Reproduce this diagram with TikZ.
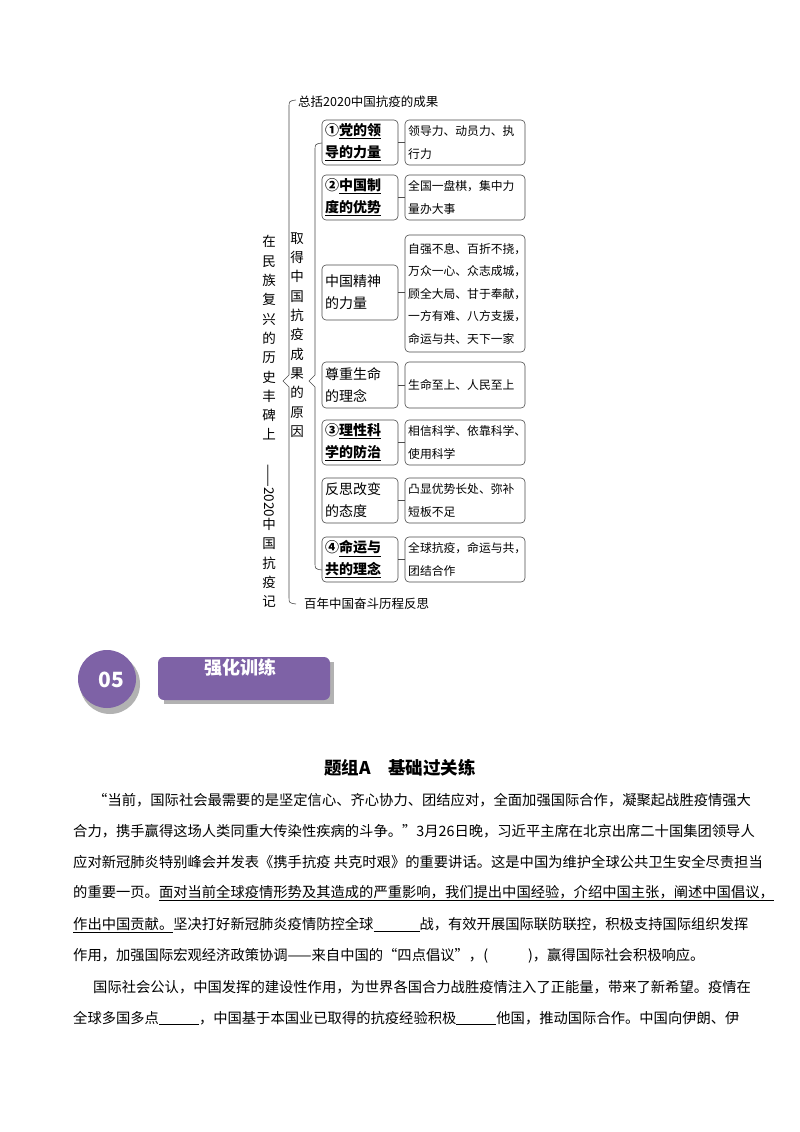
\documentclass[tikz,border=0pt]{standalone}
\usepackage{fontspec}
\setmainfont{Noto Sans CJK SC}
\begin{document}
\begin{tikzpicture}[x=1pt,y=-1pt,
  lb/.style={draw=black!70,rounded corners=4pt,line width=0.6pt},
  lt/.style={anchor=north west,align=left,inner sep=0pt,font=\fontsize{14}{22}\selectfont},
  rt/.style={anchor=north west,align=left,inner sep=0pt,font=\fontsize{11.8}{22.5}\selectfont},
  con/.style={draw=black!70,line width=0.6pt},
  brace/.style={draw=black!70,line width=0.6pt},
  vt/.style={align=center,inner sep=0pt,font=\fontsize{13.5}{19.3}\selectfont},
  body/.style={anchor=west,inner sep=0pt,font=\fontsize{14.3}{18}\selectfont}]
\useasboundingbox (0,0) rectangle (800,1132);
\fill[white] (0,0) rectangle (800,1132);
\definecolor{pur}{HTML}{7E62A6}
% outer brace
\draw[brace] (296,100) .. controls (289,101) .. (289,108) -- (289,375) -- (283,381) -- (289,387) -- (289,597) .. controls (289,603) .. (296,604);
\node[anchor=west,inner sep=0,font=\fontsize{12.5}{14}\selectfont] (ttop) at (298,102) {总括2020中国抗疫的成果};
\node[anchor=west,inner sep=0,font=\fontsize{12.5}{14}\selectfont] (tbot) at (304,604) {百年中国奋斗历程反思};
% inner brace
\draw[brace] (322,143) .. controls (315,144) .. (315,151) -- (315,375) -- (309,381) -- (315,387) -- (315,562) .. controls (315,569) .. (322,570);
\node[vt] (vleft) at (269,338) {在\\民\\族\\复\\兴\\的\\历\\史\\丰\\碑\\上};
\node[vt] (vleft2) at (269,536) {\rotatebox{-90}{——2020}\\中\\国\\抗\\疫\\记};
\node[vt] (vmid) at (297,335) {取\\得\\中\\国\\抗\\疫\\成\\果\\的\\原\\因};
% boxes
\foreach \n/\ya/\yb/\yc/\yd/\txl/\txr in {
 1/120/165/120/165/{\bfseries ①\underline{党的领}\\\bfseries\underline{导的力量}}/{领导力、动员力、执\\行力},
 2/175/220/175/220/{\bfseries ②\underline{中国制}\\\bfseries\underline{度的优势}}/{全国一盘棋，集中力\\量办大事},
 3/265/320/235/352/{中国精神\\的力量}/{自强不息、百折不挠，\\万众一心、众志成城，\\顾全大局、甘于奉献，\\一方有难、八方支援，\\命运与共、天下一家},
 4/362/408/362/408/{尊重生命\\的理念}/{生命至上、人民至上},
 5/420/465/420/465/{\bfseries ③\underline{理性科}\\\bfseries\underline{学的防治}}/{相信科学、依靠科学、\\使用科学},
 6/478/523/478/523/{反思改变\\的态度}/{凸显优势长处、弥补\\短板不足},
 7/537/582/537/582/{\bfseries ④\underline{命运与}\\\bfseries\underline{共的理念}}/{全球抗疫，命运与共，\\团结合作}}{
  \draw[lb] (322,\ya) rectangle (398,\yb);
  \draw[lb] (405,\yc) rectangle (525,\yd);
  \node[lt,anchor=west] (l\n) at (325,{(\ya+\yb)/2}) {\txl};
  \node[rt,anchor=west] (r\n) at (408,{(\yc+\yd)/2}) {\txr};
  \coordinate (la\n) at (398,{(\ya+\yb)/2});
  \coordinate (ra\n) at (405,{(\ya+\yb)/2});
  \draw[con] (la\n) -- (ra\n);
}
% banner
\fill[black!30] (110,684) circle (30);
\fill[black!30] (164,662) rectangle (334,704);
\fill[black!30] (82,686) -- (104,655) -- (110,684) -- cycle;
\fill[pur,rounded corners=6pt] (158,657) rectangle (330,700);
\fill[pur] (107,679) circle (29);
\fill[pur] (79,681) -- (100,651) -- (107,679) -- cycle;
\node[text=white,font=\fontsize{21}{22}\bfseries\selectfont] (n05) at (111,680) {05};
\node[text=white,font=\fontsize{18}{20}\bfseries\selectfont] (bt) at (240,668) {强化训练};
% title
\node[font=\fontsize{17.5}{20}\bfseries\selectfont] (title) at (400,768) {题组A\quad 基础过关练};
% body
\node[body] (p1) at (93,800) {“当前，国际社会最需要的是坚定信心、齐心协力、团结应对，全面加强国际合作，凝聚起战胜疫情强大};
\node[body] (p2) at (73,831) {合力，携手赢得这场人类同重大传染性疾病的斗争。”3月26日晚，习近平主席在北京出席二十国集团领导人};
\node[body] (p3) at (73,862) {应对新冠肺炎特别峰会并发表《携手抗疫\ 共克时艰》的重要讲话。这是中国为维护全球公共卫生安全尽责担当};
\node[body] (p4) at (73,893) {的重要一页。\underline{面对当前全球疫情形势及其造成的严重影响，我们提出中国经验，介绍中国主张，阐述中国倡议，}};
\node[body] (p5) at (73,925) {\underline{作出中国贡献。}坚决打好新冠肺炎疫情防控全球\underline{\hspace{46pt}}战，有效开展国际联防联控，积极支持国际组织发挥};
\node[body] (p6) at (73,956) {作用，加强国际宏观经济政策协调——来自中国的“四点倡议”，(\hspace{40pt})，赢得国际社会积极响应。};
\node[body] (p7) at (93,987) {国际社会公认，中国发挥的建设性作用，为世界各国合力战胜疫情注入了正能量，带来了新希望。疫情在};
\node[body] (p8) at (73,1018) {全球多国多点\underline{\hspace{40pt}}，中国基于本国业已取得的抗疫经验积极\underline{\hspace{40pt}}他国，推动国际合作。中国向伊朗、伊};
\end{tikzpicture}
\end{document}
